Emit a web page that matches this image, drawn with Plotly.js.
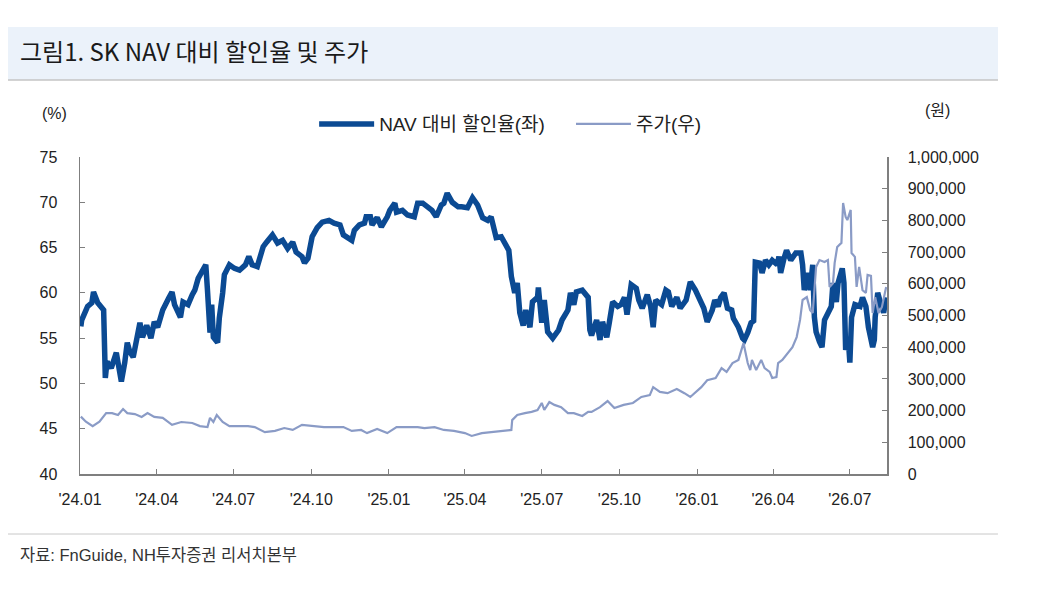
<!DOCTYPE html>
<html>
<head>
<meta charset="utf-8">
<script src="https://cdn.plot.ly/plotly-3.0.1.min.js"></script>
<style>
  html, body { margin: 0; padding: 0; background: #ffffff; }
  #chart { width: 1053px; height: 593px; }
</style>
</head>
<body>
<div id="chart"></div>
<script>
// NAV 대비 할인율 (%), 좌축
var discDates = [
  '2024-01-02','2024-01-03','2024-01-10','2024-01-15','2024-01-17','2024-01-22','2024-01-29','2024-01-31',
  '2024-02-02','2024-02-07','2024-02-13','2024-02-15','2024-02-19','2024-02-23','2024-02-26','2024-02-29',
  '2024-03-04','2024-03-08','2024-03-12','2024-03-15','2024-03-20','2024-03-25','2024-03-29','2024-04-02',
  '2024-04-08','2024-04-15','2024-04-19','2024-04-22','2024-04-29','2024-05-02','2024-05-08','2024-05-13',
  '2024-05-16','2024-05-20','2024-05-29','2024-05-31','2024-06-03','2024-06-05','2024-06-07','2024-06-12',
  '2024-06-14','2024-06-18','2024-06-20','2024-06-26','2024-07-02','2024-07-08','2024-07-15','2024-07-19',
  '2024-07-23','2024-07-29','2024-08-05','2024-08-09','2024-08-16','2024-08-22','2024-08-28','2024-09-03',
  '2024-09-09','2024-09-13','2024-09-20','2024-09-23','2024-09-27','2024-10-02','2024-10-08','2024-10-14',
  '2024-10-22','2024-10-28','2024-11-04','2024-11-08','2024-11-18','2024-11-21','2024-11-27','2024-12-03',
  '2024-12-05','2024-12-10','2024-12-12','2024-12-18','2024-12-23','2024-12-30','2025-01-02','2025-01-08',
  '2025-01-10','2025-01-17','2025-01-23','2025-01-31','2025-02-04','2025-02-10','2025-02-17','2025-02-21',
  '2025-02-26','2025-03-04','2025-03-07','2025-03-11','2025-03-17','2025-03-24','2025-03-28','2025-04-04',
  '2025-04-10','2025-04-16','2025-04-22','2025-04-28','2025-05-02','2025-05-08','2025-05-14','2025-05-20',
  '2025-05-23','2025-05-26','2025-05-30','2025-06-02','2025-06-05','2025-06-09','2025-06-12','2025-06-17',
  '2025-06-20','2025-06-26','2025-06-27','2025-07-01','2025-07-04','2025-07-08','2025-07-14','2025-07-21',
  '2025-07-25','2025-08-01','2025-08-04','2025-08-08','2025-08-11','2025-08-18','2025-08-25','2025-08-27',
  '2025-08-29','2025-09-04','2025-09-08','2025-09-11','2025-09-16','2025-09-19','2025-09-23','2025-09-29',
  '2025-10-03','2025-10-07','2025-10-10','2025-10-15','2025-10-21','2025-10-24','2025-10-28','2025-11-03',
  '2025-11-07','2025-11-10','2025-11-13','2025-11-20','2025-11-25','2025-11-28','2025-12-02','2025-12-08',
  '2025-12-12','2025-12-19','2025-12-24','2025-12-30','2026-01-06','2026-01-09','2026-01-13','2026-01-19',
  '2026-01-22','2026-01-26','2026-01-29','2026-02-02','2026-02-06','2026-02-11','2026-02-13','2026-02-19',
  '2026-02-24','2026-02-26','2026-03-02','2026-03-04','2026-03-06','2026-03-09','2026-03-11','2026-03-16',
  '2026-03-19','2026-03-23','2026-03-27','2026-03-31','2026-04-06','2026-04-08','2026-04-10','2026-04-14',
  '2026-04-17','2026-04-22','2026-04-28','2026-05-04','2026-05-06','2026-05-08','2026-05-12','2026-05-15',
  '2026-05-18','2026-05-20','2026-05-22','2026-05-26','2026-05-29','2026-06-01','2026-06-05','2026-06-09',
  '2026-06-11','2026-06-15','2026-06-17','2026-06-22','2026-06-24','2026-06-26','2026-06-29','2026-07-01',
  '2026-07-03','2026-07-07','2026-07-13','2026-07-16','2026-07-20','2026-07-23','2026-07-28','2026-07-30',
  '2026-07-31','2026-08-03','2026-08-06','2026-08-10','2026-08-13'
];
var discValues = [
  56.3,57.0,58.5,58.9,60.1,58.9,58.1,50.6,
  52.4,51.7,53.4,52.3,50.2,52.3,54.5,53.5,
  52.9,54.8,56.7,55.1,56.4,55.0,56.8,56.2,
  58.1,59.4,60.1,58.7,57.3,59.0,58.7,59.8,
  60.3,61.6,63.1,60.3,55.6,58.7,55.1,54.5,
  57.2,60.0,62.0,63.1,62.7,62.5,63.1,64.0,
  63.1,62.9,65.1,65.6,66.4,65.5,65.8,64.9,
  65.6,64.5,64.0,63.3,63.8,66.2,67.2,67.8,
  68.0,67.7,67.5,66.4,65.8,66.9,67.5,67.7,
  68.4,68.4,67.5,68.3,67.3,68.4,69.1,69.9,
  68.9,69.1,68.6,68.4,69.9,69.9,69.4,69.1,
  68.4,69.7,69.9,71.0,70.0,69.5,69.5,69.4,
  70.5,69.7,68.3,68.0,68.4,66.1,66.2,65.1,
  64.7,61.8,60.0,61.1,57.8,56.4,58.1,56.2,
  59.0,59.5,60.6,56.7,59.2,55.7,55.0,55.9,
  57.0,58.1,60.0,58.7,60.1,60.3,59.5,55.9,
  55.3,57.0,54.8,56.8,55.1,56.7,59.0,58.5,
  58.7,59.5,57.6,60.9,60.5,59.2,58.3,59.8,
  58.5,56.2,59.2,58.7,60.3,60.1,58.5,59.5,
  58.3,59.2,61.2,60.3,59.0,58.3,56.8,58.1,
  59.2,58.5,59.5,60.0,58.3,58.1,57.2,56.2,
  55.0,54.8,55.6,56.2,56.7,56.9,63.4,63.3,
  62.2,63.6,63.1,63.6,63.1,64.0,62.2,63.8,
  64.7,63.6,64.4,64.4,63.1,60.3,62.2,60.3,
  63.1,57.3,55.7,54.6,54.0,57.0,57.8,58.5,
  61.1,59.0,61.1,62.7,61.1,53.7,55.1,52.3,
  57.3,58.7,58.5,59.5,58.5,56.2,54.0,54.8,
  57.3,60.0,59.0,57.8,59.5
];

// 주가 (원), 우축
var priceDates = [
  '2024-01-02','2024-01-08','2024-01-16','2024-01-24','2024-02-01','2024-02-08','2024-02-15','2024-02-21',
  '2024-02-26','2024-03-06','2024-03-14','2024-03-21','2024-03-29','2024-04-08','2024-04-19','2024-04-30',
  '2024-05-13','2024-05-22','2024-05-31','2024-06-03','2024-06-07','2024-06-11','2024-06-18','2024-06-26',
  '2024-07-18','2024-07-26','2024-08-07','2024-08-19','2024-08-30','2024-09-09','2024-09-20','2024-10-04',
  '2024-10-16','2024-10-28','2024-11-08','2024-11-18','2024-11-29','2024-12-06','2024-12-18','2024-12-30',
  '2025-01-10','2025-01-23','2025-02-04','2025-02-12','2025-02-24','2025-03-07','2025-03-19','2025-04-01',
  '2025-04-09','2025-04-21','2025-05-02','2025-05-14','2025-05-26','2025-05-27','2025-06-02','2025-06-11',
  '2025-06-19','2025-06-26','2025-07-01','2025-07-04','2025-07-10','2025-07-16','2025-07-24','2025-08-01',
  '2025-08-08','2025-08-18','2025-08-25','2025-08-29','2025-09-08','2025-09-17','2025-09-25','2025-10-06',
  '2025-10-17','2025-10-27','2025-11-06','2025-11-10','2025-11-18','2025-11-27','2025-12-08','2025-12-17',
  '2025-12-24','2026-01-06','2026-01-13','2026-01-23','2026-01-30','2026-02-05','2026-02-12','2026-02-19',
  '2026-02-25','2026-03-02','2026-03-05','2026-03-07','2026-03-12','2026-03-18','2026-03-22','2026-03-28',
  '2026-03-31','2026-04-05','2026-04-07','2026-04-12','2026-04-18','2026-04-24','2026-04-29','2026-05-03',
  '2026-05-06','2026-05-11','2026-05-15','2026-05-18','2026-05-22','2026-05-26','2026-06-01','2026-06-05',
  '2026-06-07','2026-06-11','2026-06-13','2026-06-16','2026-06-21','2026-06-23','2026-06-26','2026-06-28',
  '2026-07-02','2026-07-03','2026-07-07','2026-07-09','2026-07-12','2026-07-16','2026-07-20','2026-07-22',
  '2026-07-26','2026-07-28','2026-07-31','2026-08-04','2026-08-08','2026-08-13'
];
var priceValues = [
  181000,165000,151000,165000,192000,192000,186000,205000,
  192000,189000,180000,192000,180000,177000,155000,164000,
  161000,151000,148000,177000,164000,186000,164000,151000,
  151000,148000,132000,136000,145000,139000,155000,151000,
  148000,148000,148000,136000,139000,129000,142000,129000,
  148000,148000,148000,145000,148000,139000,136000,129000,
  120000,129000,132000,136000,139000,170000,186000,192000,
  196000,202000,224000,202000,227000,218000,211000,192000,
  192000,183000,196000,196000,211000,230000,208000,218000,
  224000,243000,249000,274000,259000,255000,268000,255000,
  243000,274000,296000,303000,334000,322000,350000,360000,
  413000,350000,328000,360000,328000,360000,334000,322000,
  303000,306000,350000,360000,382000,400000,432000,486000,
  549000,558000,517000,508000,653000,675000,669000,675000,
  590000,602000,666000,716000,729000,855000,811000,801000,
  833000,697000,685000,590000,653000,580000,571000,628000,
  625000,508000,558000,508000,527000,590000
];

// x축 눈금
var tickDates = ['2024-01-01','2024-04-01','2024-07-01','2024-10-01','2025-01-01','2025-04-01',
                 '2025-07-01','2025-10-01','2026-01-01','2026-04-01','2026-07-01'];
var tickLabels = ["'24.01","'24.04","'24.07","'24.10","'25.01","'25.04",
                  "'25.07","'25.10","'26.01","'26.04","'26.07"];
var leftTicks = [40, 45, 50, 55, 60, 65, 70, 75];

var FONT = 'Liberation Sans, Noto Sans CJK KR, sans-serif';
var AXIS = '#7f7f7f';

var trace1 = {
  x: discDates,
  y: discValues,
  // 범례 항목 간격을 넓히려고 뒤에 공백을 붙임
  name: 'NAV 대비 할인율(좌)\u00a0\u00a0\u00a0\u00a0',
  type: 'scatter',
  mode: 'lines',
  hoverinfo: 'none',
  line: { color: '#0b4a93', width: 5.5 }
};
var trace2 = {
  x: priceDates,
  y: priceValues,
  name: '주가(우)',
  type: 'scatter',
  mode: 'lines',
  yaxis: 'y2',
  hoverinfo: 'none',
  line: { color: '#8a9bc6', width: 2.2 }
};

var data = [trace1, trace2];

var layout = {
  width: 1053,
  height: 593,
  paper_bgcolor: '#ffffff',
  plot_bgcolor: '#ffffff',
  margin: { t: 157, b: 119, l: 80, r: 166, pad: 0 },
  font: { family: FONT, size: 16, color: '#222222' },
  title: {
    text: '그림1. SK NAV 대비 할인율 및 주가',
    xref: 'container', yref: 'container',
    x: 0.019, xanchor: 'left',
    y: 0.9106, yanchor: 'middle',
    font: { family: 'Noto Sans CJK KR, sans-serif', size: 24, color: '#1a1a1a' }
  },
  showlegend: true,
  legend: {
    orientation: 'h',
    x: 0.533, xanchor: 'center',
    y: 1.104, yanchor: 'middle',
    itemwidth: 55,
    font: { family: FONT, size: 19, color: '#222222' },
    bgcolor: 'rgba(0,0,0,0)'
  },
  xaxis: {
    type: 'date',
    range: ['2024-01-01', '2026-08-14'],
    tickvals: tickDates,
    ticktext: tickLabels,
    showgrid: false,
    zeroline: false,
    showline: true,
    linecolor: AXIS,
    linewidth: 1.5,
    ticks: 'inside',
    ticklen: 5,
    tickcolor: AXIS,
    ticklabelstandoff: 10,
    tickfont: { family: FONT, size: 16, color: '#222222' }
  },
  yaxis: {
    range: [40, 75],
    tickvals: leftTicks,
    showgrid: false,
    zeroline: false,
    showline: true,
    linecolor: AXIS,
    linewidth: 1.5,
    ticks: 'inside',
    ticklen: 5,
    tickcolor: AXIS,
    ticklabelstandoff: 18,
    tickfont: { family: FONT, size: 16, color: '#222222' }
  },
  yaxis2: {
    overlaying: 'y',
    side: 'right',
    range: [0, 1000000],
    dtick: 100000,
    tick0: 0,
    tickformat: ',d',
    showgrid: false,
    zeroline: false,
    showline: true,
    linecolor: AXIS,
    linewidth: 1.5,
    ticks: 'inside',
    ticklen: 5,
    tickcolor: AXIS,
    ticklabelstandoff: 16,
    tickfont: { family: FONT, size: 16, color: '#222222' }
  },
  shapes: [
    // 제목 배경
    { type: 'rect', xref: 'paper', yref: 'paper', x0: -0.0892, x1: 1.1375, y0: 1.2429, y1: 1.4101,
      fillcolor: '#ebf2fa', line: { width: 0 }, layer: 'below' },
    { type: 'line', xref: 'paper', yref: 'paper', x0: -0.0892, x1: 1.1375, y0: 1.2429, y1: 1.2429,
      line: { color: '#c4c4c4', width: 1.5 } },
    // 하단 구분선
    { type: 'line', xref: 'paper', yref: 'paper', x0: -0.0892, x1: 1.1375, y0: -0.1893, y1: -0.1893,
      line: { color: '#c8c8c8', width: 1 } }
  ],
  annotations: [
    { text: '(%)', xref: 'paper', yref: 'paper', x: -0.031, y: 1.1388,
      xanchor: 'center', yanchor: 'middle', showarrow: false,
      font: { family: FONT, size: 16, color: '#222222' } },
    { text: '(원)', xref: 'paper', yref: 'paper', x: 1.062, y: 1.148,
      xanchor: 'center', yanchor: 'middle', showarrow: false,
      font: { family: FONT, size: 16, color: '#222222' } },
    { text: '자료: FnGuide, NH투자증권 리서치본부', xref: 'paper', yref: 'paper', x: -0.0768, y: -0.2555,
      xanchor: 'left', yanchor: 'middle', showarrow: false,
      font: { family: FONT, size: 16.5, color: '#333333' } }
  ]
};

var config = { responsive: false, displayModeBar: false, staticPlot: true };

Plotly.newPlot('chart', data, layout, config);
</script>
</body>
</html>
